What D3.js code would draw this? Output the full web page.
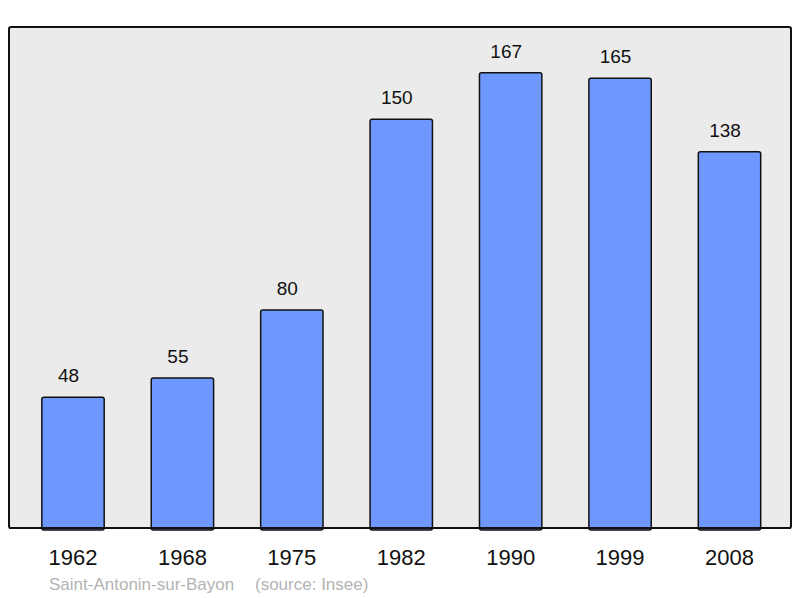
<!DOCTYPE html>
<html><head><meta charset="utf-8">
<script src="https://cdn.jsdelivr.net/npm/d3@7"></script>
<style>body{margin:0;background:#fff}svg{display:block}</style>
</head><body>
<script>
const years = ["1962","1968","1975","1982","1990","1999","2008"];
const population = [48,55,80,150,167,165,138];
const sourceName = "Saint-Antonin-sur-Bayon";
const sourceNote = "(source: Insee)";

const W = 800, H = 598;
const svg = d3.select("body").append("svg").attr("width", W).attr("height", H);
const font = "'Liberation Sans', Arial, sans-serif";

const frame = {x0: 9, x1: 791, y0: 27, y1: 528};
svg.append("rect").attr("x", frame.x0).attr("y", frame.y0)
  .attr("width", frame.x1 - frame.x0).attr("height", frame.y1 - frame.y0)
  .attr("rx", 2).attr("fill", "#ebebeb").attr("stroke", "#111").attr("stroke-width", 2);

const x = d3.scaleBand().domain(years).range([18.3, 784.2]).paddingInner(0.43).paddingOuter(0.215);
const y = d3.scaleLinear().domain([0, 183.8]).range([frame.y1, frame.y0]);

svg.selectAll("rect.bar").data(population).join("rect").attr("class", "bar")
  .attr("x", (d, i) => x(years[i])).attr("width", x.bandwidth())
  .attr("y", d => y(d)).attr("height", d => y(0) - y(d) + 2)
  .attr("rx", 2).attr("fill", "#6f98ff").attr("stroke", "#111").attr("stroke-width", 1.5);

svg.append("line").attr("x1", frame.x0).attr("x2", frame.x1).attr("y1", frame.y1).attr("y2", frame.y1)
  .attr("stroke", "#111").attr("stroke-width", 2);

svg.selectAll("text.val").data(population).join("text").attr("class", "val")
  .attr("x", (d, i) => x(years[i]) + x.bandwidth() / 2 - 4.5).attr("y", d => y(d) - 15)
  .attr("text-anchor", "middle").attr("font-family", font).attr("font-size", 19).attr("fill", "#111")
  .text(d => d);

const xAxis = d3.axisBottom(x).tickSize(0).tickPadding(0);
const ax = svg.append("g").attr("transform", `translate(0,${frame.y1})`).call(xAxis);
ax.select(".domain").remove();
ax.selectAll("text").attr("font-family", font).attr("font-size", 22).attr("fill", "#111")
  .attr("dy", null).attr("y", 37);

svg.append("text").attr("x", 49).attr("y", 590).attr("font-family", font).attr("font-size", 17)
  .attr("fill", "#b3b3b3").text(sourceName);
svg.append("text").attr("x", 255).attr("y", 590).attr("font-family", font).attr("font-size", 17)
  .attr("fill", "#b3b3b3").text(sourceNote);
</script>
</body></html>
